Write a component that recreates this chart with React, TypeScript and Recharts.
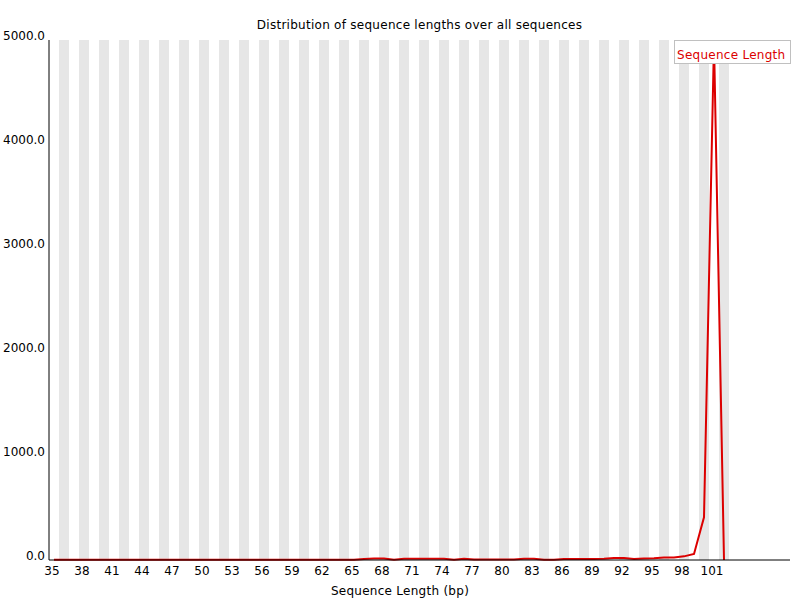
import React from "react";
import { LineChart, Line, XAxis, YAxis, ReferenceArea } from "recharts";

// sequence lengths (bp), one bin each
const lengths = [
  35, 36, 37, 38, 39, 40, 41, 42, 43, 44, 45, 46, 47, 48, 49, 50, 51, 52,
  53, 54, 55, 56, 57, 58, 59, 60, 61, 62, 63, 64, 65, 66, 67, 68, 69, 70,
  71, 72, 73, 74, 75, 76, 77, 78, 79, 80, 81, 82, 83, 84, 85, 86, 87, 88,
  89, 90, 91, 92, 93, 94, 95, 96, 97, 98, 99, 100, 101, 102,
];

// read counts per length
const counts = [
  2, 2, 2, 2, 2, 2, 2, 2, 2, 2, 2, 2, 2, 2, 2, 2, 2, 2,
  2, 2, 2, 2, 2, 2, 2, 2, 2, 2, 2, 2, 2, 10, 14, 14, 3, 12,
  12, 12, 12, 12, 3, 12, 5, 5, 5, 5, 5, 12, 12, 3, 3, 10, 10, 10,
  10, 12, 20, 20, 10, 15, 18, 25, 25, 35, 58, 410, 4985, 0,
];

const xTicks = [35, 38, 41, 44, 47, 50, 53, 56, 59, 62, 65, 68, 71, 74, 77, 80, 83, 86, 89, 92, 95, 98, 101];
const yTicks = [0, 1000, 2000, 3000, 4000, 5000];

const data = lengths.map((length, i) => ({ length, count: counts[i] }));

const FONT = "'DejaVu Sans', sans-serif";

export default function App() {
  return (
    <div
      style={{
        position: "absolute",
        left: 0,
        top: 0,
        width: 800,
        height: 600,
        background: "#fff",
        fontFamily: FONT,
        fontSize: 12,
        lineHeight: "14px",
      }}
    >
      <div
        style={{
          position: "absolute",
          top: 18,
          left: 49,
          width: 741,
          textAlign: "center",
          color: "#000",
          letterSpacing: "0.27px",
        }}
      >
        Distribution of sequence lengths over all sequences
      </div>

      <LineChart width={800} height={600} data={data} margin={{ top: 40, right: 10, bottom: 0, left: 0 }}>
        {lengths
          .filter((_, i) => i % 2 === 1)
          .map((len) => (
            <ReferenceArea
              key={`stripe-${len}`}
              x1={len - 0.5}
              x2={len + 0.5}
              y1={0}
              y2={5000}
              fill="#e6e6e6"
              fillOpacity={1}
              stroke="none"
              ifOverflow="hidden"
            />
          ))}
        <XAxis
          dataKey="length"
          type="number"
          domain={[34.5, 108.6]}
          ticks={xTicks}
          interval={0}
          allowDataOverflow
          tickLine={false}
          tickSize={5}
          tickMargin={1}
          axisLine={{ stroke: "#000" }}
          tick={{ fill: "#000", fontSize: 12, fontFamily: FONT, dx: -2 }}
          height={40}
        />
        <YAxis
          type="number"
          domain={[0, 5000]}
          ticks={yTicks}
          interval={0}
          width={49}
          tickLine={false}
          tickSize={4}
          tickMargin={0}
          axisLine={{ stroke: "#000" }}
          tickFormatter={(v: number) => v.toFixed(1)}
          tick={{ fill: "#000", fontSize: 12, fontFamily: FONT, dy: -4 }}
        />
        <Line
          type="linear"
          dataKey="count"
          stroke="#dc0000"
          strokeWidth={2}
          dot={false}
          activeDot={false}
          isAnimationActive={false}
        />
      </LineChart>

      <div
        style={{
          position: "absolute",
          left: 674,
          top: 40,
          width: 117,
          height: 24,
          boxSizing: "border-box",
          border: "1px solid #c0c0c0",
          background: "#fff",
          color: "#dc0000",
          padding: "7px 0 0 2px",
          whiteSpace: "nowrap",
          letterSpacing: "0.27px",
        }}
      >
        Sequence Length
      </div>

      <div
        style={{
          position: "absolute",
          top: 584,
          left: 0,
          width: 800,
          textAlign: "center",
          color: "#000",
          letterSpacing: "0.27px",
        }}
      >
        Sequence Length (bp)
      </div>
    </div>
  );
}
